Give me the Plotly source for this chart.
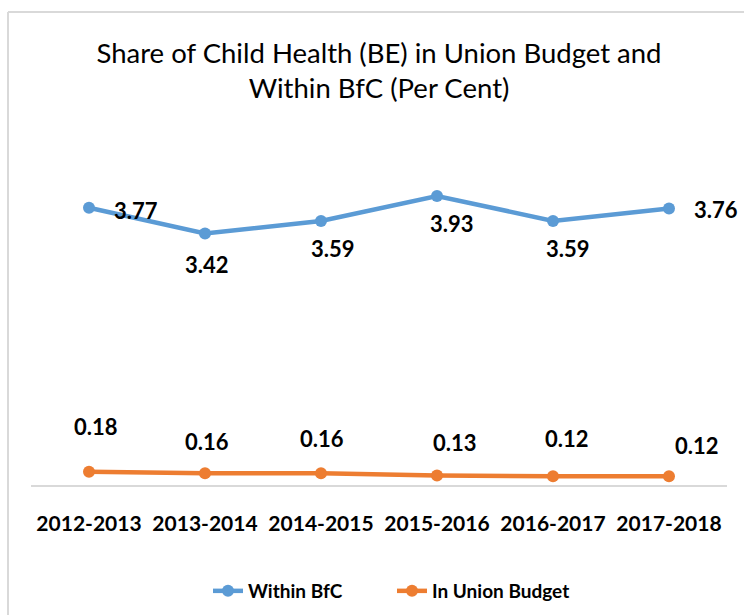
import plotly.graph_objects as go

years = ["2012-2013", "2013-2014", "2014-2015", "2015-2016", "2016-2017", "2017-2018"]
within_bfc = [3.77, 3.42, 3.59, 3.93, 3.59, 3.76]
in_union_budget = [0.18, 0.16, 0.16, 0.13, 0.12, 0.12]

BLUE = "#5B9BD5"
ORANGE = "#ED7D31"
FONT = "Lato"

# label placement offsets (pixels) mimicking the original free-placed labels
blue_off = [(47, -3), (2, -31), (12, -28), (15, -28), (15, -28), (47, -1)]
orange_off = [(7, 45), (2, 32), (1, 35), (18, 33), (14, 38), (28, 31)]

fig = go.Figure()
fig.add_trace(go.Scatter(x=years, y=within_bfc, mode="lines+markers", name="Within BfC",
                         line=dict(color=BLUE, width=4.5), marker=dict(size=12, color=BLUE)))
fig.add_trace(go.Scatter(x=years, y=in_union_budget, mode="lines+markers", name="In Union Budget",
                         line=dict(color=ORANGE, width=4.5), marker=dict(size=12, color=ORANGE)))

ann = []
for x, v, (dx, dy) in zip(years, within_bfc, blue_off):
    ann.append(dict(x=x, y=v, xref="x", yref="y", text=f"{v:.2f}", showarrow=False,
                    xshift=dx, yshift=dy, font=dict(family=FONT, size=22, color="#000", weight="bold")))
for x, v, (dx, dy) in zip(years, in_union_budget, orange_off):
    ann.append(dict(x=x, y=v, xref="x", yref="y", text=f"{v:.2f}", showarrow=False,
                    xshift=dx, yshift=dy, font=dict(family=FONT, size=22, color="#000", weight="bold")))

L, T, W, H = 31, 154, 696, 331
def px(xp):
    return (xp - L) / W
def py(yp):
    return 1 - (yp - T) / H

shapes = [
    dict(type="line", xref="paper", yref="paper", x0=px(8), x1=px(760), y0=py(12), y1=py(12),
         line=dict(color="#d9d9d9", width=2)),
    dict(type="line", xref="paper", yref="paper", x0=px(8), x1=px(8), y0=py(12), y1=py(630),
         line=dict(color="#d9d9d9", width=2)),
]

fig.update_layout(
    width=744, height=615,
    margin=dict(l=L, r=744 - L - W, t=T, b=615 - T - H, autoexpand=False),
    paper_bgcolor="white", plot_bgcolor="white",
    title=dict(text="Share of Child Health (BE) in Union Budget and<br>Within BfC (Per Cent)",
               xref="container", yref="container",
               x=379 / 744, xanchor="center", y=1 - 62.5 / 615, yanchor="middle",
               font=dict(family=FONT, size=27.5, color="#000")),
    xaxis=dict(range=[-0.5, 5.5], showline=True, linecolor="#d9d9d9", linewidth=2, showgrid=False,
               ticks="", ticklabelstandoff=19, automargin=False,
               tickfont=dict(family=FONT, size=21, color="#000", weight="bold"), fixedrange=True),
    yaxis=dict(range=[0, 4.5], visible=False, showgrid=False, zeroline=False, automargin=False),
    showlegend=True,
    legend=dict(orientation="h", x=px(208), xanchor="left", y=py(591), yanchor="middle",
                font=dict(family=FONT, size=19, color="#000", weight="bold"),
                entrywidth=139, entrywidthmode="pixels"),
    annotations=ann, shapes=shapes,
)
fig.write_html("out.html", config={"displayModeBar": False},
               post_script="document.body.style.margin='0';")
